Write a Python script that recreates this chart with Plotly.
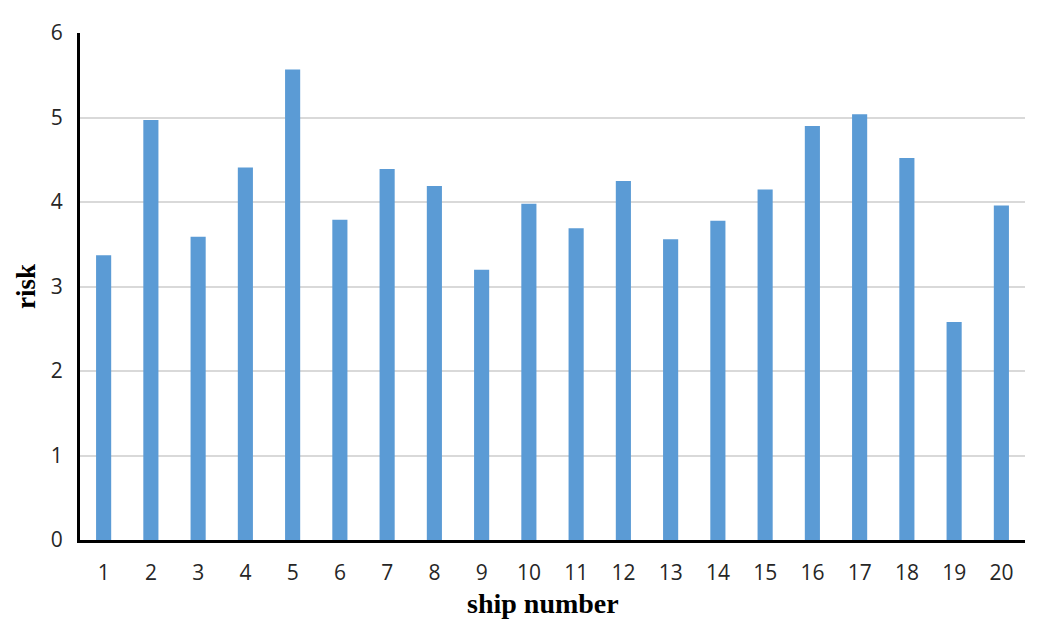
import plotly.graph_objects as go

ships = [str(i) for i in range(1, 21)]
risk = [3.37, 4.97, 3.59, 4.41, 5.57, 3.79, 4.39, 4.19, 3.20, 3.98,
        3.69, 4.25, 3.56, 3.78, 4.15, 4.90, 5.04, 4.52, 2.58, 3.96]
y_ticks = [0, 1, 2, 3, 4, 5, 6]

fig = go.Figure(go.Bar(x=ships, y=risk, marker_color="#5B9BD5", marker_line_width=0))

fig.update_layout(
    width=1050, height=628,
    margin=dict(l=80, r=25, t=33, b=88, autoexpand=False),
    plot_bgcolor="white", paper_bgcolor="white",
    bargap=0.68,
    showlegend=False,
    font=dict(family="Open Sans", color="#262626"),
)
fig.update_xaxes(
    type="category", automargin=False,
    showline=True, linecolor="black", linewidth=3,
    showgrid=False, ticks="", ticklabelstandoff=12,
    tickfont=dict(size=21, family="Open Sans", color="#262626"),
)
fig.add_annotation(
    text="<b>ship number</b>", xref="paper", yref="paper", x=0.49, y=-0.126,
    xanchor="center", yanchor="middle", showarrow=False,
    font=dict(family="Liberation Serif", size=28, color="black"),
)
fig.update_yaxes(
    range=[0, 6.001], tickvals=y_ticks, automargin=False,
    showline=True, linecolor="black", linewidth=3,
    showgrid=True, gridcolor="#D9D9D9", gridwidth=2,
    zeroline=False, ticks="", ticklabelstandoff=10,
    tickfont=dict(size=21, family="Open Sans", color="#262626"),
    title=dict(text="<b>risk</b>", font=dict(family="Liberation Serif", size=27, color="black"), standoff=8),
)

fig.write_html("out.html", config={"displayModeBar": False},
               post_script="document.body.style.margin='0px';")
